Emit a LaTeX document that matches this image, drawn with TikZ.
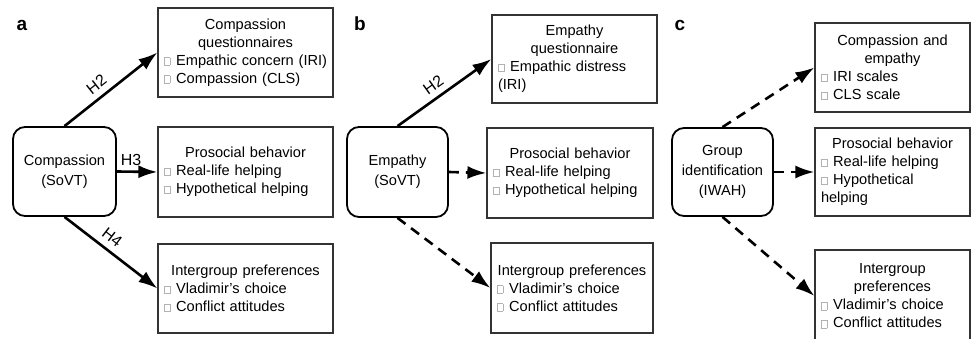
\documentclass[tikz,border=0pt]{standalone}
\usepackage{fontspec}
\setmainfont{Liberation Sans}
\usetikzlibrary{arrows.meta}
\newcommand\fs{\fontsize{14.6}{18}\selectfont}
\newcommand\cbx{{\color{black!30}\setlength{\fboxrule}{0.6pt}\setlength{\fboxsep}{0pt}\raisebox{0.3pt}{\fbox{\rule{0pt}{7pt}\hspace{5pt}}}}\hspace{6pt}}
\newcommand\hd[1]{{\noindent\centering #1\par}}
\newcommand\itm[1]{{\raggedright\noindent\mbox{\cbx #1}\par}}
\newcommand\itx[2]{{\raggedright\noindent\mbox{\cbx #1}\\#2\par}}
\tikzset{
  box/.style={draw=black!80, line width=1.2pt, inner xsep=6pt, inner ysep=0pt, font=\fs},
  rnode/.style={draw=black, line width=1.8pt, rounded corners=12pt, align=center, font=\fontsize{14.6}{20}\selectfont},
  arr/.style={line width=2.6pt, -{Latex[length=19pt,width=13pt]}},
  darr/.style={arr, dash pattern=on 10pt off 7pt},
  lbl/.style={font=\fontsize{16}{18}\selectfont, inner sep=1pt},
  letter/.style={font=\fontsize{19}{20}\selectfont\bfseries}
}
\begin{document}
\begin{tikzpicture}[x=1pt,y=-1pt]
\useasboundingbox (0,0) rectangle (972,339);
\clip (0,0) rectangle (972,339);
% panel letters
\node[letter] (la) at (22,25) {a};
\node[letter] (lb) at (360,24) {b};
\node[letter] (lc) at (680,25) {c};
% panel a
\node[rnode, minimum width=103pt, minimum height=89pt] (A) at (64.5,171.5) {Compassion\\(SoVT)};
\node[box, text width=163pt, minimum height=89pt] (A1) at (245.5,52.5) {\hd{Compassion\\questionnaires}\itm{Empathic concern (IRI)}\itm{Compassion (CLS)}};
\node[box, text width=163pt, minimum height=90pt] (A2) at (245.5,172) {\hd{Prosocial behavior}\itm{Real-life helping}\itm{Hypothetical helping}};
\node[box, text width=163pt, minimum height=89pt] (A3) at (245.5,288.5) {\hd{Intergroup preferences}\itm{Vladimir’s choice}\itm{Conflict attitudes}};
\draw[arr] (A.north) -- node[lbl, pos=0.43, above=5pt, sloped] {H2} (A1.west);
\draw[arr] (A.east) -- node[lbl, pos=0.35, above=4pt] {H3} (A2.west);
\draw[arr] (A.south) -- node[lbl, pos=0.43, above=5pt, sloped] {H4} (A3.west);
% panel b
\node[rnode, minimum width=101pt, minimum height=90pt] (B) at (397.5,172) {Empathy\\(SoVT)};
\node[box, text width=153pt, minimum height=88pt] (B1) at (574.5,59) {\hd{Empathy\\questionnaire}\itx{Empathic distress}{(IRI)}};
\node[box, text width=154pt, minimum height=90pt] (B2) at (570,173) {\hd{Prosocial behavior}\itm{Real-life helping}\itm{Hypothetical helping}};
\node[box, text width=150pt, minimum height=90pt] (B3) at (572,288) {\hd{Intergroup preferences}\itm{Vladimir’s choice}\itm{Conflict attitudes}};
\draw[arr] (B.north) -- node[lbl, pos=0.46, above=5pt, sloped] {H2} (B1.west);
\draw[darr] (B.east) -- (B2.west);
\draw[darr] (B.south) -- (B3.west);
% panel c
\node[rnode, minimum width=101pt, minimum height=88pt] (C) at (722.5,172) {Group\\identification\\(IWAH)};
\node[box, text width=143pt, minimum height=89pt] (C1) at (892.5,67.5) {\hd{Compassion and\\empathy}\itm{IRI scales}\itm{CLS scale}};
\node[box, text width=143pt, minimum height=88pt] (C2) at (892.5,172) {\hd{Prosocial behavior}\itm{Real-life helping}\itx{Hypothetical}{helping}};
\node[box, text width=143pt, minimum height=92pt] (C3) at (892.5,296) {\hd{Intergroup\\preferences}\itm{Vladimir’s choice}\itm{Conflict attitudes}};
\draw[darr] (C.north) -- (C1.west);
\draw[darr] (C.east) -- (C2.west);
\draw[darr] (C.south) -- (C3.west);
\end{tikzpicture}
\end{document}
